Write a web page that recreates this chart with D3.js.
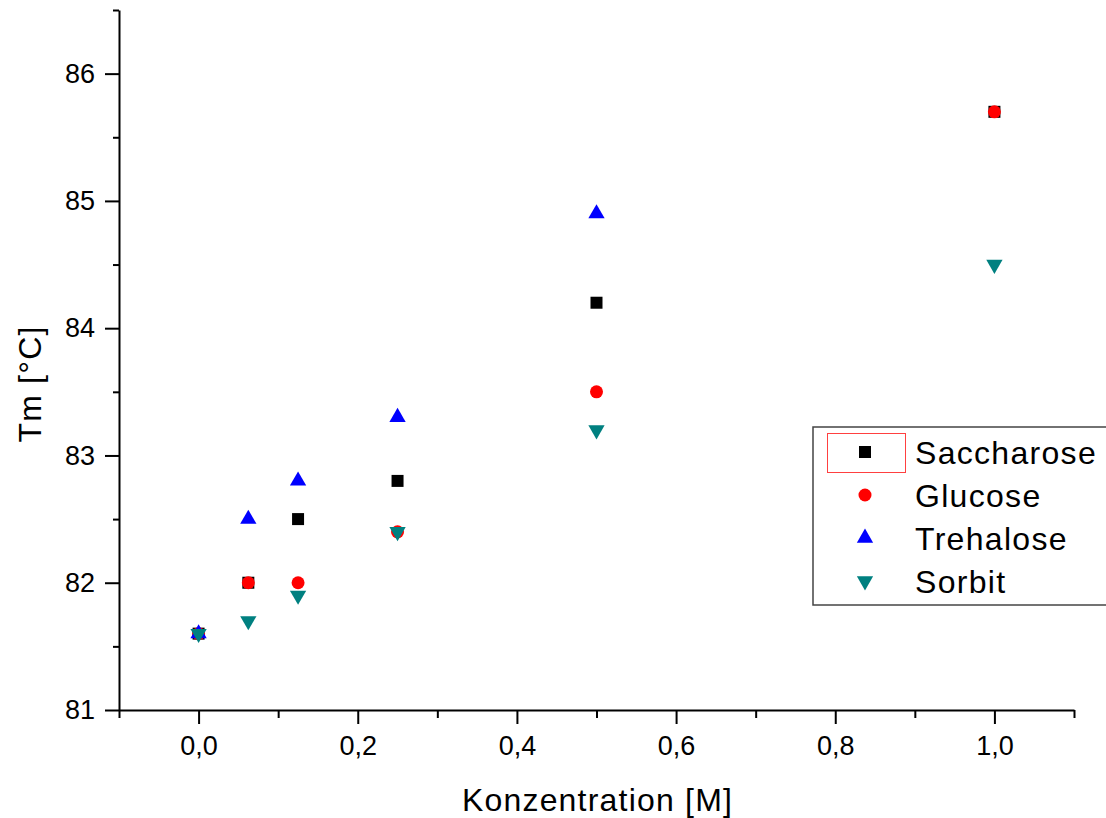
<!DOCTYPE html>
<html>
<head>
<meta charset="utf-8">
<script src="https://cdn.jsdelivr.net/npm/d3@7"></script>
<style>
  html, body { margin: 0; padding: 0; background: #fff; }
  svg { display: block; font-family: Arial, "Liberation Sans", sans-serif; }
</style>
</head>
<body>
<svg id="chart" width="1106" height="818"></svg>
<script>
// Melting temperature vs. sugar concentration
const concentrations = [0, 0.0625, 0.125, 0.25, 0.5, 1.0];
const saccharose = [81.6, 82.0, 82.5, 82.8, 84.2, 85.7];
const glucose    = [81.6, 82.0, 82.0, 82.4, 83.5, 85.7];
const trehalose  = [81.6, 82.5, 82.8, 83.3, 84.9, null];
const sorbit     = [81.6, 81.7, 81.9, 82.4, 83.2, 84.5];

const seriesNames = ["Saccharose", "Glucose", "Trehalose", "Sorbit"];
const seriesValues = [saccharose, glucose, trehalose, sorbit];

const xMajorTicks = [0, 0.2, 0.4, 0.6, 0.8, 1.0];
const xMinorTicks = [-0.1, 0.1, 0.3, 0.5, 0.7, 0.9, 1.1];
const yMajorTicks = [81, 82, 83, 84, 85, 86];
const yMinorTicks = [81.5, 82.5, 83.5, 84.5, 85.5, 86.5];

const xTitle = "Konzentration [M]";
const yTitle = "Tm [°C]";

const styles = [
  { symbol: d3.symbolSquare,   size: 144, fill: "#000000", rotate: 0 },
  { symbol: d3.symbolCircle,   size: 133, fill: "#ff0000", rotate: 0 },
  { symbol: d3.symbolTriangle, size: 115, fill: "#0000ff", rotate: 0 },
  { symbol: d3.symbolTriangle, size: 115, fill: "#008080", rotate: 180 }
];

const svg = d3.select("#chart");
const x = d3.scaleLinear().domain([-0.1, 1.1]).range([119, 1074]);
const y = d3.scaleLinear().domain([81, 86.5]).range([710, 10]);

const fmt = v => d3.format(".1f")(v).replace(".", ",");

// x axis: major + minor ticks
const gx = svg.append("g").attr("transform", `translate(0,${y(81)})`);
gx.call(d3.axisBottom(x).tickValues(xMajorTicks).tickSize(14).tickSizeOuter(0).tickPadding(12).tickFormat(fmt));
gx.append("g").call(d3.axisBottom(x).tickValues(xMinorTicks).tickSize(8).tickSizeOuter(0).tickFormat(""))
  .select(".domain").remove();

// y axis: major + minor ticks
const gy = svg.append("g").attr("transform", `translate(${x(-0.1)},0)`);
gy.call(d3.axisLeft(y).tickValues(yMajorTicks).tickSize(14).tickSizeOuter(0).tickPadding(10).tickFormat(d3.format("d")));
gy.append("g").call(d3.axisLeft(y).tickValues(yMinorTicks).tickSize(6).tickSizeOuter(0).tickFormat(""))
  .select(".domain").remove();

svg.selectAll(".domain").attr("stroke", "#000").attr("stroke-width", 2);
svg.selectAll(".tick line").attr("stroke", "#000").attr("stroke-width", 2);
svg.selectAll(".tick text").attr("fill", "#000").attr("font-size", 27)
  .attr("font-family", "Arial, 'Liberation Sans', sans-serif");
gx.selectAll(".tick text").attr("dy", "0.71em");

// axis titles
svg.append("text")
  .attr("x", (x(-0.1) + x(1.1)) / 2 + 1)
  .attr("y", 811)
  .attr("text-anchor", "middle")
  .attr("font-size", 32)
  .attr("letter-spacing", 1.2)
  .attr("fill", "#000")
  .text(xTitle);

svg.append("text")
  .attr("transform", "translate(41,384) rotate(-90)")
  .attr("text-anchor", "middle")
  .attr("font-size", 32)
  .attr("letter-spacing", 1.2)
  .attr("fill", "#000")
  .text(yTitle);

// scatter markers, series drawn in order so later ones sit on top
seriesValues.forEach((vals, i) => {
  const st = styles[i];
  const pts = concentrations.map((c, j) => ({ c, v: vals[j] })).filter(d => d.v != null);
  svg.append("g")
    .selectAll("path")
    .data(pts)
    .join("path")
    .attr("d", d3.symbol().type(st.symbol).size(st.size))
    .attr("transform", d => `translate(${x(d.c)},${y(d.v)}) rotate(${st.rotate})`)
    .attr("fill", st.fill);
});

// legend
const legend = svg.append("g");
legend.append("rect")
  .attr("x", 813).attr("y", 427).attr("width", 310).attr("height", 178)
  .attr("fill", "#fff").attr("stroke", "#444").attr("stroke-width", 1.5);
legend.append("rect")
  .attr("x", 827.5).attr("y", 433.5).attr("width", 78).attr("height", 39)
  .attr("fill", "none").attr("stroke", "#ff4040").attr("stroke-width", 1);

const rowY = d3.scaleLinear().domain([0, 3]).range([452, 581]);
seriesNames.forEach((name, i) => {
  const st = styles[i];
  legend.append("path")
    .attr("d", d3.symbol().type(st.symbol).size(st.size))
    .attr("transform", `translate(865,${rowY(i)}) rotate(${st.rotate})`)
    .attr("fill", st.fill);
  legend.append("text")
    .attr("x", 915)
    .attr("y", rowY(i) + 12)
    .attr("font-size", 32)
    .attr("letter-spacing", 1.3)
    .attr("fill", "#000")
    .text(name);
});
</script>
</body>
</html>
